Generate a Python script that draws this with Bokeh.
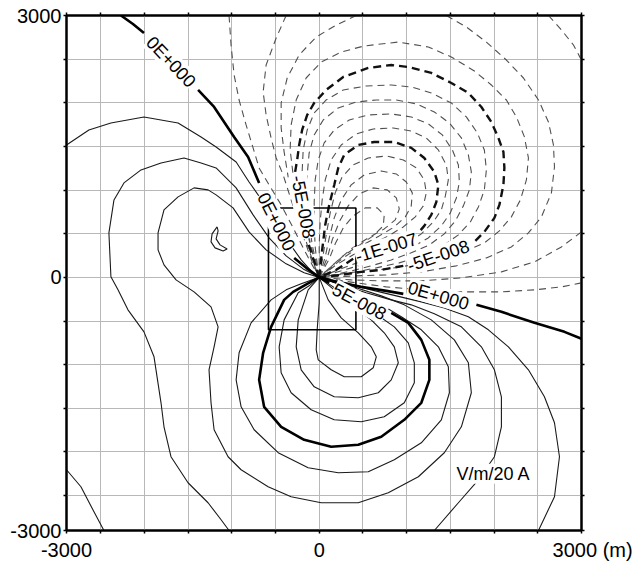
import numpy as np
from bokeh.plotting import figure
from bokeh.models import Range1d, FixedTicker, LinearAxis
from bokeh.core.properties import value
from bokeh.embed import file_html
from bokeh.resources import INLINE

NaN = float("nan")
FONT = "Liberation Sans"

# ---------------- axes / ticks ----------------
x_start, x_end = -2890, 3000
y_start, y_end = -2900, 3000
grid_ticks = [-2500, -2000, -1500, -1000, -500, 0, 500, 1000, 1500, 2000, 2500]
x_ticks = [x_start] + grid_ticks + [x_end]
y_ticks = [y_start] + grid_ticks + [y_end]
unit_text = "(m)"
x_tick_labels = {x_start: "-3000", 0: "0", x_end: "\u00a0\u00a0\u00a0\u00a03000 " + unit_text}
y_tick_labels = {y_start: "-3000", 0: "0", y_end: "3000"}

# ---------------- zero contour (thick solid, 0E+000) ----------------
zero_x = [-2267, -2130, -2004, NaN, -1385, -1202, -973, -813, -687, NaN, -286, -149, 0,
          195, 481, 767, 962, NaN, 1798, 2084, 2462, 2805, 3000]
zero_y = [3000, 2903, 2800, NaN, 2147, 1952, 1609, 1380, 1082, NaN, 223, 109, 0,
          -52, -109, -155, -189, NaN, -315, -395, -521, -624, -704]

# ---------------- positive contours (thin solid) ----------------
corner_x = [-2890, -2725, -2588, -2462]
corner_y = [-2204, -2399, -2662, -2900]

a_left_x = [-2890, -2634, -2382, -2004, -1614, -1351, -1179, -950, -802, -641, -492, -344, -206, -92, 0]
a_left_y = [1517, 1689, 1769, 1838, 1769, 1609, 1494, 1322, 1093, 864, 635, 395, 200, 74, 0]
a_right_x = [0, 309, 595, 882, 1168, 1431, 1706, 1935, 2164, 2393, 2576, 2691, 2748, 2691, 2508]
a_right_y = [0, -63, -143, -212, -281, -350, -452, -601, -796, -1059, -1368, -1666, -2055, -2513, -2900]

b_left_x = [-1031, -1122, -1271, -1500, -1695, -1775, -1809, -1889, -2004, -2187, -2301, -2382, -2405,
            -2347, -2233, -2038, -1809, -1546, -1351, -1179, -950, -756, -573, -378, -183, 0]
b_left_y = [-2900, -2777, -2582, -2353, -2055, -1712, -1437, -910, -624, -372, -143, 6, 510,
            887, 1082, 1231, 1311, 1368, 1311, 1254, 1025, 716, 452, 246, 97, 0]
b_right_x = [0, 252, 538, 824, 1053, 1317, 1626, 1855, 2004, 2084, 2084, 2004, 1821, 1592, 1317]
b_right_y = [0, -86, -177, -258, -315, -418, -567, -796, -1059, -1368, -1712, -2055, -2319, -2582, -2900]

c_x = [0, -172, -378, -607, -802, -985, -1179, -1271, -1431, -1614, -1775, -1843, -1843, -1775, -1637,
       -1431, -1237, -1156, -1202, -1260, -1237, -1202, -1042, -893, -584, -321, 23, 447, 790, 1134,
       1431, 1626, 1740, 1706, 1546, 1282, 973, 710, 424, 195, 0]
c_y = [0, 52, 155, 315, 521, 796, 945, 1002, 1025, 922, 773, 510, 315, 143, -29,
       -166, -338, -567, -796, -1059, -1437, -1746, -2055, -2204, -2399, -2513, -2582, -2582, -2467, -2284,
       -2009, -1712, -1322, -979, -716, -487, -315, -212, -120, -57, 0]

crescent_x = [-1168, -1225, -1237, -1191, -1099, -1053, -1134, -1179, -1156, -1168]
crescent_y = [578, 498, 406, 338, 303, 326, 372, 441, 532, 578]

l5_x = [0, -206, -378, -550, -779, -916, -950, -893, -744, -469, -126, 218, 561, 859, 1168, 1397,
        1489, 1477, 1363, 1168, 939, 676, 447, 229, 0]
l5_y = [0, -74, -143, -258, -521, -864, -1174, -1483, -1746, -2009, -2181, -2238, -2227, -2090, -1895, -1632,
        -1322, -1025, -796, -601, -452, -292, -177, -74, 0]

l3_x = [0, -115, -240, -401, -458, -435, -321, -92, 172, 481, 744, 973, 1088, 1088, 1019, 859, 630, 366, 160, 0]
l3_y = [0, -97, -177, -487, -796, -1093, -1322, -1517, -1632, -1655, -1597, -1437, -1208, -979, -750, -567,
        -406, -258, -109, 0]

l2_x = [0, -126, -240, -263, -206, -57, 172, 447, 676, 824, 905, 859, 744, 595, 401, 172, 0]
l2_y = [0, -143, -487, -796, -1059, -1254, -1368, -1380, -1322, -1174, -979, -796, -635, -487, -338, -143, 0]

l1_x = [0, 0, -23, -34, -11, 137, 286, 481, 618, 653, 595, 447, 252, 103, 0]
l1_y = [0, -292, -601, -830, -945, -1059, -1139, -1139, -1036, -910, -796, -635, -464, -258, 0]

# thick positive contour (5E-008)
l4_x = [0, -137, -298, -401, -550, -641, -687, -630, -435, -172, 137, 447, 710, 973, 1168, 1260, 1260,
        1168, 1019, 824, NaN, 115, 0]
l4_y = [0, -74, -166, -258, -567, -864, -1174, -1483, -1712, -1861, -1941, -1918, -1826, -1632, -1437,
        -1174, -945, -716, -521, -406, NaN, -63, 0]

# ---------------- negative contours (dashed) ----------------
n1_left_x = [-1031, -1008, -973, -916, -836, -756, -687, -573, -435, -298, -172, -80, 0]
n1_left_y = [3000, 2662, 2319, 2032, 1746, 1483, 1254, 1059, 830, 567, 315, 143, 0]
n1_right_x = [3000, 2771, 2462, 2084, 1626, 1168, 767, 424, 195, 0]
n1_right_y = [-63, -109, -143, -166, -166, -143, -109, -63, -29, 0]

n2_left_x = [-378, -492, -607, -641, -607, -550, -492, -412, -321, -229, -137, -69, 0]
n2_left_y = [3000, 2742, 2433, 2124, 1861, 1597, 1368, 1174, 887, 601, 338, 143, 0]
n2_top_x = [2622, 2771, 2908, 3000]
n2_top_y = [3000, 2834, 2662, 2490]
n2_right_x = [3000, 2771, 2462, 2084, 1626, 1168, 710, 366, 0]
n2_right_y = [521, 349, 177, 63, -6, -40, -40, -29, 0]

n3_left_x = [424, 195, -34, -229, -366, -435, -435, -401, -355, -286, -206, -126, -57, 0]
n3_left_y = [3000, 2891, 2754, 2548, 2284, 1998, 1712, 1437, 1151, 864, 590, 338, 143, 0]
n3_right_x = [1454, 1683, 1912, 2141, 2336, 2508, 2622, 2679, 2691, 2656, 2542, 2393, 2198, 1912, 1569,
              1168, 767, 424, 0]
n3_right_y = [3000, 2868, 2696, 2490, 2284, 2032, 1780, 1517, 1265, 968, 693, 510, 349, 223, 132,
              63, 29, 17, 0]

n4_x = [0, -34, -92, -160, -229, -298, -332, -321, -263, -149, 23, 252, 515, 905, 1248, 1511, 1775,
        1969, 2141, 2256, 2347, 2393, 2370, 2301, 2198, 2061, 1889, 1626, 1282, 939, 595, 286, 0]
n4_y = [0, 132, 338, 601, 887, 1174, 1460, 1746, 2032, 2284, 2467, 2582, 2651, 2696, 2639, 2525, 2364,
        2204, 2032, 1838, 1609, 1368, 1116, 887, 693, 532, 395, 281, 189, 120, 74, 40, 0]

n6_x = [0, -46, -103, -149, -183, -195, -183, -137, -57, 80, 275, 538, 824, 1053, 1282, 1511, 1683, 1809,
        1889, 1912, 1889, 1821, 1729, 1592, 1397, 1168, 916, 653, 424, 195, 0]
n6_y = [0, 177, 395, 658, 945, 1208, 1460, 1689, 1884, 2032, 2147, 2193, 2204, 2181, 2113, 1998, 1838, 1655,
        1460, 1231, 1002, 807, 635, 487, 349, 246, 166, 109, 63, 29, 0]

n7_x = [0, -34, -80, -115, -137, -137, -115, -57, 46, 218, 424, 653, 882, 1111, 1317, 1489, 1626, 1706,
        1740, 1718, 1649, 1557, 1431, 1260, 1053, 824, 595, 366, 172, 0]
n7_y = [0, 166, 372, 635, 910, 1174, 1425, 1632, 1803, 1941, 2009, 2032, 2032, 1987, 1895, 1769, 1597, 1403,
        1208, 1002, 819, 647, 498, 372, 281, 200, 132, 74, 29, 0]

n8_x = [0, -23, -46, -57, -57, -46, -11, 57, 172, 344, 561, 824, 1053, 1248, 1408, 1523, 1592, 1603, 1569,
        1500, 1397, 1248, 1053, 847, 595, 366, 172, 0]
n8_y = [0, 155, 349, 601, 864, 1116, 1345, 1540, 1689, 1803, 1861, 1872, 1838, 1758, 1632, 1460, 1288, 1093,
        910, 739, 590, 452, 338, 258, 177, 109, 52, 0]

n9_x = [0, 0, 0, 11, 34, 69, 137, 252, 424, 618, 847, 1053, 1225, 1363, 1454, 1477, 1443, 1397, 1305, 1168,
        996, 824, 595, 366, 160, 0]
n9_y = [0, 155, 372, 635, 887, 1116, 1345, 1517, 1643, 1700, 1712, 1677, 1597, 1460, 1288, 1116, 933, 773,
        635, 498, 384, 303, 223, 143, 63, 0]

n11_x = [0, 46, 80, 126, 183, 263, 389, 561, 767, 962, 1111, 1202, 1225, 1191, 1099, 962, 790, 595, 389, 195, 0]
n11_y = [0, 258, 487, 739, 968, 1151, 1288, 1368, 1391, 1345, 1254, 1116, 968, 819, 693, 578, 475, 372, 258, 143, 0]

n12_x = [0, 69, 115, 172, 252, 366, 515, 710, 882, 996, 1065, 1053, 985, 859, 687, 481, 275, 0]
n12_y = [0, 235, 452, 681, 887, 1059, 1174, 1219, 1185, 1093, 968, 819, 693, 578, 475, 361, 223, 0]

n13_x = [0, 92, 149, 229, 332, 458, 618, 779, 882, 916, 870, 744, 561, 366, 195, 0]
n13_y = [0, 223, 429, 635, 819, 956, 1025, 1002, 910, 784, 658, 555, 452, 326, 177, 0]

n14_x = [0, 115, 183, 275, 389, 527, 664, 744, 733, 618, 447, 275, 0]
n14_y = [0, 212, 384, 567, 704, 796, 796, 716, 590, 475, 361, 246, 0]

# thick dashed contours (-5E-008 and -1E-007)
n5_x = [0, -57, -126, NaN, -275, -252, -229, -195, -137, -57, 80, 275, 561, 824, 1019, 1282, 1511, 1706,
        1855, 1969, 2050, 2107, 2118, 2107, 2061, 2004, 1889, 1763, NaN, 962, 710, 481, 252, 0]
n5_y = [0, 177, 395, NaN, 1208, 1345, 1517, 1689, 1861, 1998, 2147, 2296, 2399, 2433, 2410, 2342, 2227, 2113,
        1952, 1780, 1597, 1437, 1254, 1059, 830, 681, 521, 395, NaN, 132, 86, 63, 29, 0]
n10_x = [0, 34, 69, 115, 172, 218, 286, 447, 630, 859, 1053, 1202, 1317, 1363, 1340, 1282, 1202, 1134,
         NaN, 389, 195, 0]
n10_y = [0, 315, 601, 830, 1059, 1254, 1403, 1517, 1551, 1551, 1483, 1368, 1208, 1059, 864, 716, 590, 510,
         NaN, 212, 86, 0]

# ---------------- inner survey rectangle ----------------
rect_left, rect_right = [-580], [420]
rect_bottom, rect_top = [-600], [795]

# ---------------- contour labels ----------------
label_text = ["0E+000", "0E+000", "-5E-008", "-1E-007", "-5E-008", "0E+000", "5E-008"]
label_x = [-1695, -492, -183, 767, 1363, 1363, 458]
label_y = [2467, 635, 807, 338, 246, -212, -281]
label_angle = [-46.5, -63, -79, 17, 19, -16, -28]

unit_label = "V/m/20 A"
unit_label_x = [1569]
unit_label_y = [-2250]


def arr(v):
    return np.array(v, dtype=float)


p = figure(width=638, height=563, output_backend="svg", toolbar_location=None,
           x_range=Range1d(x_start, x_end), y_range=Range1d(y_start, y_end),
           min_border_left=66, min_border_top=15, min_border_right=57, min_border_bottom=31,
           background_fill_color="white", border_fill_color="white")
p.outline_line_color = "black"
p.outline_line_width = 2

# grid
for g in (p.xgrid, p.ygrid):
    g.ticker = FixedTicker(ticks=grid_ticks)
    g.grid_line_color = "#b8b8b8"
    g.grid_line_width = 1


def style_axis(ax, ticks, labels, show):
    ax.ticker = FixedTicker(ticks=ticks)
    ov = {t: "" for t in ticks}
    if show:
        ov.update(labels)
    ax.major_label_overrides = ov
    ax.axis_line_color = "black"
    ax.axis_line_width = 2
    ax.major_tick_line_color = "black"
    ax.major_tick_line_width = 1.5
    ax.major_tick_out = 3
    ax.major_tick_in = 0
    ax.minor_tick_line_color = None
    ax.major_label_text_font = FONT
    ax.major_label_text_color = "black"
    ax.major_label_text_font_size = "20px" if show else "1px"
    ax.major_label_standoff = 2 if show else 0


style_axis(p.xaxis[0], x_ticks, x_tick_labels, True)
p.xaxis[0].major_label_standoff = 5
style_axis(p.yaxis[0], y_ticks, y_tick_labels, True)
p.yaxis[0].major_label_orientation = "horizontal"
top_ax = LinearAxis()
right_ax = LinearAxis()
style_axis(top_ax, x_ticks, x_tick_labels, False)
style_axis(right_ax, y_ticks, y_tick_labels, False)
p.add_layout(top_ax, "above")
p.add_layout(right_ax, "right")

# dashed thin negative contours
thin_dash = [(n1_left_x, n1_left_y), (n1_right_x, n1_right_y), (n2_left_x, n2_left_y),
             (n2_top_x, n2_top_y), (n2_right_x, n2_right_y), (n3_left_x, n3_left_y),
             (n3_right_x, n3_right_y), (n4_x, n4_y), (n6_x, n6_y), (n7_x, n7_y), (n8_x, n8_y),
             (n9_x, n9_y), (n11_x, n11_y), (n12_x, n12_y), (n13_x, n13_y), (n14_x, n14_y)]
p.multi_line(xs=[arr(a) for a, b in thin_dash], ys=[arr(b) for a, b in thin_dash],
             line_color="#505050", line_width=1.1, line_dash="7 5")
thick_dash = [(n5_x, n5_y), (n10_x, n10_y)]
p.multi_line(xs=[arr(a) for a, b in thick_dash], ys=[arr(b) for a, b in thick_dash],
             line_color="#111111", line_width=2.4, line_dash="8 5")

# thin solid positive contours
thin_solid = [(corner_x, corner_y), (a_left_x, a_left_y), (a_right_x, a_right_y),
              (b_left_x, b_left_y), (b_right_x, b_right_y), (c_x, c_y), (crescent_x, crescent_y),
              (l5_x, l5_y), (l3_x, l3_y), (l2_x, l2_y), (l1_x, l1_y)]
p.multi_line(xs=[arr(a) for a, b in thin_solid], ys=[arr(b) for a, b in thin_solid],
             line_color="#1a1a1a", line_width=1.1)
thick_solid = [(zero_x, zero_y), (l4_x, l4_y)]
p.multi_line(xs=[arr(a) for a, b in thick_solid], ys=[arr(b) for a, b in thick_solid],
             line_color="black", line_width=2.6)

# inner rectangle
p.quad(left=rect_left, right=rect_right, bottom=rect_bottom, top=rect_top,
       fill_color=None, line_color="black", line_width=1.6)

# contour labels
p.text(x=label_x, y=label_y, text=label_text, angle=label_angle, angle_units="deg",
       text_align="center", text_baseline="middle", text_font=value(FONT),
       text_font_size="18px", text_color="black",
       background_fill_color="white", background_fill_alpha=1.0)
p.text(x=unit_label_x, y=unit_label_y, text=[unit_label], text_align="left",
       text_baseline="middle", text_font=value(FONT), text_font_size="18px",
       text_color="black", background_fill_color="white")

open("out.html", "w").write(file_html(p, INLINE))
